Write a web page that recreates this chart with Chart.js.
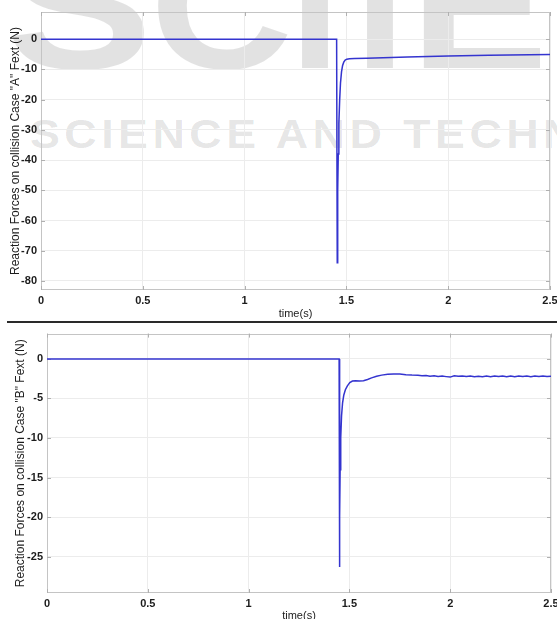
<!DOCTYPE html>
<html>
<head>
<meta charset="utf-8">
<script src="https://cdn.jsdelivr.net/npm/chart.js@4.4.1/dist/chart.umd.min.js"></script>
<style>
  html, body { margin: 0; padding: 0; background: #fff; }
  body { width: 557px; height: 619px; overflow: hidden; position: relative; }
  .wm { position: absolute; color: rgba(0, 0, 0, 0.115); font-family: "Liberation Sans", Arial, sans-serif; font-weight: bold; white-space: nowrap; line-height: 1; transform-origin: 0 0; }
  .wm.big { top: -84px; font-size: 180px; }
  .wm.small { left: 30px; top: 114px; font-size: 40px; letter-spacing: 4px; transform: scaleX(1.12); }
  canvas { position: absolute; left: 0; }
  #chartA { top: 0; }
  #chartB { top: 323px; }
  .sep { position: absolute; left: 7px; top: 321px; width: 550px; height: 2px; background: #2a2a2a; }
</style>
</head>
<body>
<span class="wm big" style="left:6px; transform:scaleX(1.22)">S</span>
<span class="wm big" style="left:150px; transform:scaleX(1.1)">C</span>
<span class="wm big" style="left:290px">I</span>
<span class="wm big" style="left:325px">T</span>
<span class="wm big" style="left:410px; transform:scaleX(1.15)">E</span>
<div class="wm small">SCIENCE AND TECHNOLOGY</div>
<canvas id="chartA" width="570" height="321"></canvas>
<div class="sep"></div>
<canvas id="chartB" width="570" height="301"></canvas>
<script>
const xTicks = [0, 0.5, 1, 1.5, 2, 2.5];
const yTicksA = [0, -10, -20, -30, -40, -50, -60, -70, -80];
const yTicksB = [0, -5, -10, -15, -20, -25];

// case A: time (s) / force (N)
const timeA = [0, 1.452, 1.455, 1.4565, 1.458, 1.460, 1.463, 1.467, 1.471, 1.476, 1.481,
  1.487, 1.494, 1.502, 1.515, 1.540, 1.600, 1.800, 2.000, 2.200, 2.500];
const forceA = [0, 0, -74, -62, -50, -38, -28, -20, -14.5, -10.8, -8.8,
  -7.6, -6.9, -6.6, -6.45, -6.4, -6.3, -5.9, -5.6, -5.35, -5.05];

// case B
const timeB = [0, 1.449, 1.451, 1.452, 1.454, 1.457, 1.461, 1.466, 1.472, 1.480, 1.490,
  1.502, 1.515, 1.530, 1.550, 1.570, 1.590, 1.610, 1.635, 1.660, 1.690, 1.720, 1.750,
  1.780, 1.810, 1.840, 1.860, 1.880, 1.900, 1.920, 1.940, 1.960, 1.980, 2.000, 2.020,
  2.040, 2.060, 2.080, 2.100, 2.120, 2.140, 2.160, 2.180, 2.200, 2.220, 2.240, 2.260,
  2.280, 2.300, 2.320, 2.340, 2.360, 2.380, 2.400, 2.420, 2.440, 2.460, 2.480, 2.500];
const forceB = [0, 0, -26.3, -20, -14, -10, -7.2, -5.6, -4.6, -3.9, -3.4,
  -3.0, -2.8, -2.75, -2.8, -2.75, -2.6, -2.4, -2.2, -2.05, -1.95, -1.9, -1.92,
  -2.0, -2.05, -2.08, -2.14, -2.10, -2.18, -2.13, -2.22, -2.17, -2.24, -2.30, -2.12,
  -2.20, -2.15, -2.23, -2.16, -2.24, -2.18, -2.25, -2.16, -2.24, -2.15, -2.23, -2.17,
  -2.25, -2.16, -2.24, -2.15, -2.23, -2.17, -2.24, -2.15, -2.23, -2.16, -2.22, -2.18];

const fontFamily = '"Liberation Sans", Arial, Helvetica, sans-serif';

// box round the plot and small inward tick marks, matlab style
const frame = {
  id: "frame",
  beforeDatasetsDraw(chart) {
    const { ctx, chartArea: a, scales: { x, y } } = chart;
    ctx.save();
    ctx.strokeStyle = "#c4c4c4";
    ctx.lineWidth = 1;
    ctx.strokeRect(Math.round(a.left) + 0.5, Math.round(a.top) + 0.5,
      Math.round(a.width) - 1, Math.round(a.height) - 1);
    ctx.strokeStyle = "#b0b0b0";
    ctx.beginPath();
    x.ticks.forEach(t => {
      const p = Math.round(x.getPixelForValue(t.value)) + 0.5;
      ctx.moveTo(p, a.bottom); ctx.lineTo(p, a.bottom - 4);
      ctx.moveTo(p, a.top); ctx.lineTo(p, a.top + 4);
    });
    y.ticks.forEach(t => {
      const p = Math.round(y.getPixelForValue(t.value)) + 0.5;
      ctx.moveTo(a.left, p); ctx.lineTo(a.left + 4, p);
      ctx.moveTo(a.right, p); ctx.lineTo(a.right - 4, p);
    });
    ctx.stroke();
    ctx.restore();
  }
};

function makeChart(id, times, forces, opts) {
  new Chart(document.getElementById(id), {
    type: "line",
    data: {
      datasets: [{
        data: times.map((t, i) => ({ x: t, y: forces[i] })),
        borderColor: "#3434cf",
        borderWidth: 1.5,
        pointRadius: 0,
        tension: 0,
        fill: false
      }]
    },
    options: {
      responsive: false,
      animation: false,
      events: [],
      layout: { padding: { top: opts.top, right: opts.right, left: 0, bottom: 0 } },
      plugins: { legend: { display: false }, tooltip: { enabled: false } },
      scales: {
        x: {
          type: "linear",
          min: 0,
          max: 2.5,
          afterBuildTicks: s => { s.ticks = xTicks.map(v => ({ value: v })); },
          afterFit: s => { s.height = 31; },
          grid: { color: "#ececec", drawTicks: false },
          border: { display: false },
          ticks: {
            padding: 4,
            maxRotation: 0,
            color: "#1c1c1c",
            font: { family: fontFamily, size: 11, weight: "bold" },
            callback: v => String(v)
          },
          title: {
            display: true,
            text: "time(s)",
            color: "#1c1c1c",
            font: { family: fontFamily, size: 11 },
            padding: { top: 0, bottom: opts.xTitlePad }
          }
        },
        y: {
          min: opts.yMin,
          max: opts.yMax,
          afterBuildTicks: s => { s.ticks = opts.yTicks.map(v => ({ value: v })); },
          afterFit: s => { s.width = opts.yWidth; },
          grid: { color: "#ececec", drawTicks: false },
          border: { display: false },
          ticks: {
            padding: 4,
            color: "#1c1c1c",
            font: { family: fontFamily, size: 11, weight: "bold" },
            callback: v => String(v)
          },
          title: {
            display: true,
            text: opts.yTitle,
            color: "#1c1c1c",
            font: { family: fontFamily, size: 12 },
            padding: { top: opts.yTitlePad, bottom: 0 }
          }
        }
      }
    },
    plugins: [frame]
  });
}

makeChart("chartA", timeA, forceA, {
  top: 12, right: 20, yMin: -83, yMax: 9, yTicks: yTicksA, yWidth: 41,
  yTitle: 'Reaction Forces on collision Case "A" Fext (N)', yTitlePad: 8, xTitlePad: 0
});

makeChart("chartB", timeB, forceB, {
  top: 3, right: 19, yMin: -29.6, yMax: 3.2, yTicks: yTicksB, yWidth: 47,
  yTitle: 'Reaction Forces on collision Case "B" Fext (N)', yTitlePad: 13, xTitlePad: 1
});
</script>
</body>
</html>
